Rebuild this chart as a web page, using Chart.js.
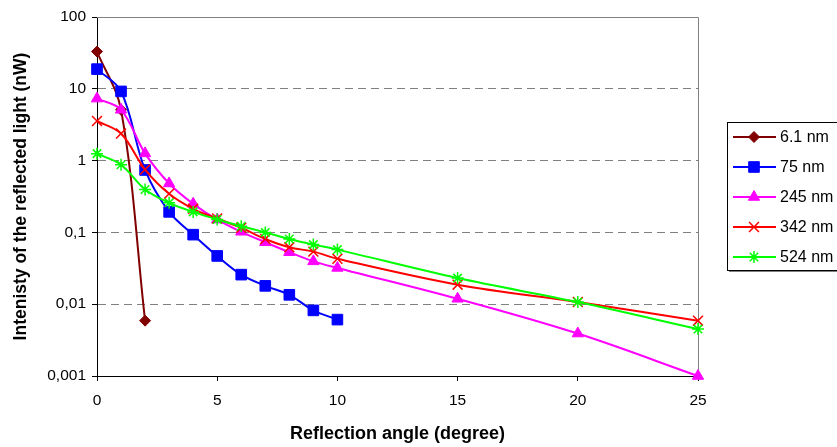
<!DOCTYPE html>
<html lang="en">
<head>
    <meta charset="UTF-8">
    <title>Reflected light intensity vs. angle</title>
    <script src="https://cdn.jsdelivr.net/npm/chart.js"></script>
    <style>
        body { margin: 0; background: #fff; }
        #wrap { width: 837px; height: 447px; position: relative; }
    </style>
</head>
<body>
    <div id="wrap"><canvas id="myChart"></canvas></div>

    <script>
        // reflection angles (degree)
        const angles = [0, 1, 2, 3, 4, 5, 6, 7, 8, 9, 10, 15, 20, 25];
        const yTicks = [0.001, 0.01, 0.1, 1, 10, 100];
        const xTicks = [0, 5, 10, 15, 20, 25];

        // intensity (nW)
        const nm61  = [33, 5.1, 0.0059];
        const nm75  = [18.8, 9.2, 0.74, 0.193, 0.093, 0.047, 0.0258, 0.018, 0.0135, 0.0082, 0.0061];
        const nm245 = [7.3, 5.1, 1.26, 0.48, 0.25, 0.151, 0.102, 0.073, 0.053, 0.0395, 0.032, 0.0119, 0.0039, 0.001];
        const nm342 = [3.56, 2.38, 0.75, 0.345, 0.213, 0.156, 0.116, 0.081, 0.062, 0.054, 0.043, 0.0187, 0.0107, 0.0059];
        const nm524 = [1.25, 0.877, 0.396, 0.258, 0.193, 0.151, 0.122, 0.1, 0.081, 0.0676, 0.0576, 0.0231, 0.0107, 0.0045];

        const seriesLabels = ['6.1 nm', '75 nm', '245 nm', '342 nm', '524 nm'];

        function pts(vals) {
            return vals.map((v, i) => ({ x: angles[i], y: v }));
        }

        // later series sit on top, like in the spreadsheet
        function makeSet(idx, vals, color, style, radius) {
            return {
                label: seriesLabels[idx],
                data: pts(vals),
                order: 5 - idx,
                borderColor: color,
                backgroundColor: color,
                borderWidth: 2,
                pointStyle: style,
                pointRadius: radius,
                pointBorderWidth: style === 'crossRot' || style === 'star' ? 1.5 : 1,
                pointBackgroundColor: color,
                pointBorderColor: color,
                tension: 0.35,
                clip: false
            };
        }

        Chart.defaults.font.family = "'Liberation Sans', Arial, sans-serif";
        Chart.defaults.font.size = 15.5;
        Chart.defaults.color = '#000';

        // gray frame on top and right of the plot area
        const framePlugin = {
            id: 'frame',
            beforeDatasetsDraw(chart) {
                const a = chart.chartArea, c = chart.ctx;
                c.save();
                c.strokeStyle = '#808080';
                c.lineWidth = 1;
                c.beginPath();
                c.moveTo(a.left, a.top + 0.5);
                c.lineTo(a.right + 0.5, a.top + 0.5);
                c.lineTo(a.right + 0.5, a.bottom);
                c.stroke();
                c.restore();
            }
        };

        // boxed legend like the spreadsheet one
        const boxLegend = {
            id: 'boxLegend',
            afterDraw(chart) {
                const c = chart.ctx;
                const bx = 727, by = 122, bw = 130, bh = 148;
                c.save();
                c.fillStyle = '#fff';
                c.fillRect(bx, by, bw, bh);
                c.strokeStyle = '#000';
                c.lineWidth = 1;
                c.strokeRect(bx + 0.5, by + 0.5, bw, bh);
                c.strokeStyle = '#808080';
                c.beginPath();
                c.moveTo(bx + 2, by + bh + 1.5);
                c.lineTo(bx + bw, by + bh + 1.5);
                c.stroke();

                chart.data.datasets.forEach((ds, i) => {
                    const y = 137 + i * 30;
                    c.strokeStyle = ds.borderColor;
                    c.lineWidth = 2;
                    c.beginPath();
                    c.moveTo(733, y);
                    c.lineTo(776, y);
                    c.stroke();
                    c.fillStyle = ds.backgroundColor;
                    c.strokeStyle = ds.borderColor;
                    c.lineWidth = ds.pointBorderWidth;
                    Chart.helpers.drawPoint(c, { pointStyle: ds.pointStyle, radius: ds.pointRadius, borderWidth: ds.pointBorderWidth }, 754, y);
                    c.fillStyle = '#000';
                    c.font = "16px 'Liberation Sans', Arial, sans-serif";
                    c.textBaseline = 'middle';
                    c.textAlign = 'left';
                    c.fillText(ds.label, 780, y + 1);
                });
                c.restore();
            }
        };

        let ctx = document.getElementById('myChart').getContext('2d');
        let chart = new Chart(ctx, {
            type: 'line',
            data: {
                datasets: [
                    makeSet(0, nm61, '#800000', 'rectRot', 5.5),
                    makeSet(1, nm75, '#0000FF', 'rect', 7.5),
                    makeSet(2, nm245, '#FF00FF', 'triangle', 6.5),
                    makeSet(3, nm342, '#FF0000', 'crossRot', 7),
                    makeSet(4, nm524, '#00FF00', 'star', 6)
                ]
            },
            options: {
                responsive: true,
                maintainAspectRatio: false,
                animation: false,
                layout: {
                    padding: { left: 0, right: 139, top: 17, bottom: 0 }
                },
                plugins: {
                    legend: { display: false },
                    tooltip: { enabled: false }
                },
                scales: {
                    x: {
                        type: 'linear',
                        min: 0,
                        max: 25,
                        afterFit: function(scale) { scale.height = 71; },
                        afterBuildTicks: function(scale) {
                            scale.ticks = xTicks.map(v => ({ value: v }));
                        },
                        grid: {
                            drawOnChartArea: false,
                            drawTicks: true,
                            tickLength: 5,
                            tickColor: '#000'
                        },
                        border: { color: '#000', width: 1 },
                        ticks: { padding: 10, maxRotation: 0 },
                        title: {
                            display: true,
                            text: 'Reflection angle (degree)',
                            font: { weight: 'bold', size: 18 },
                            padding: { top: 4, bottom: 2 }
                        }
                    },
                    y: {
                        type: 'logarithmic',
                        min: 0.001,
                        max: 100,
                        afterFit: function(scale) { scale.width = 97; },
                        afterBuildTicks: function(scale) {
                            scale.ticks = yTicks.map(v => ({ value: v }));
                        },
                        grid: {
                            color: '#808080',
                            tickColor: '#000',
                            tickLength: 5,
                            lineWidth: 1
                        },
                        border: { color: '#000', width: 1, dash: [8, 5] },
                        ticks: {
                            padding: 6,
                            callback: function(value) {
                                return String(value).replace('.', ',');
                            }
                        },
                        title: {
                            display: true,
                            text: 'Intenisty of the reflected light (nW)',
                            font: { weight: 'bold', size: 17.5 },
                            padding: { top: 11, bottom: 4 }
                        }
                    }
                }
            },
            plugins: [framePlugin, boxLegend]
        });
    </script>
</body>
</html>
